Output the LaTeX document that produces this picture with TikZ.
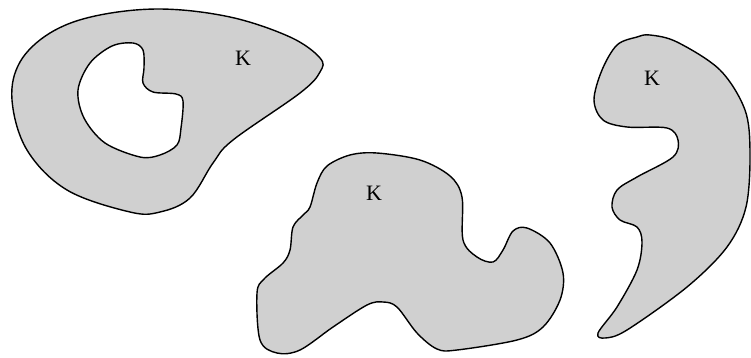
\documentclass[tikz,border=0pt]{standalone}
\usepackage{fontspec}
\setmainfont{Liberation Serif}
\begin{document}
\begin{tikzpicture}[x=1pt,y=-1pt,
  blob/.style={draw=black,fill={rgb,255:red,208;green,208;blue,208},line width=1.4pt,line join=round},
  lab/.style={font=\fontsize{22}{24}\selectfont,inner sep=0pt}]
\useasboundingbox (0,0) rectangle (751,357);
% blob 1 with hole
\path[blob,even odd rule]
  plot[smooth cycle,tension=0.6] coordinates{
    (50,33) (95,16) (160,9) (230,17) (290,37) (320,58) (320,72) (300,93)
    (233,140) (213,163) (190,198) (160,212) (130,212) (67,190) (27,150) (12,100) (20,62)}
  plot[smooth cycle,tension=0.55] coordinates{
    (133,43) (143,50) (144,68) (143,83) (153,92) (176,94) (183,101)
    (181,128) (177,145) (160,155) (140,157) (105,143) (84,118) (78,90) (90,63) (112,46)};
\node[lab] (k1) at (243,58) {K};
% blob 2
\path[blob]
  plot[smooth cycle,tension=0.55] coordinates{
    (327,166) (350,155) (377,153) (420,160) (450,176) (462,197) (463,240)
    (477,257) (493,262) (503,250) (513,231) (527,228) (550,243) (563,273)
    (560,300) (543,327) (517,340) (457,350) (437,349) (417,333) (397,307)
    (383,302) (367,305) (333,327) (300,350) (277,353) (260,340) (257,293)
    (264,279) (283,263) (290,250) (293,227) (303,215) (310,207) (317,183)};
\node[lab] (k2) at (374,193) {K};
% blob 3
\path[blob]
  plot[smooth cycle,tension=0.55] coordinates{
    (637,37) (617,45) (602,70) (594,100) (603,120) (627,127) (667,128)
    (678,140) (673,157) (637,177) (617,190) (612,207) (620,220) (637,227)
    (642,242) (637,270) (617,307) (598,333) (605,338) (627,330) (687,287)
    (727,247) (746,207) (750,153) (745,110) (720,70) (677,42) (650,35)};
\node[lab] (k3) at (652,78) {K};
\end{tikzpicture}
\end{document}
